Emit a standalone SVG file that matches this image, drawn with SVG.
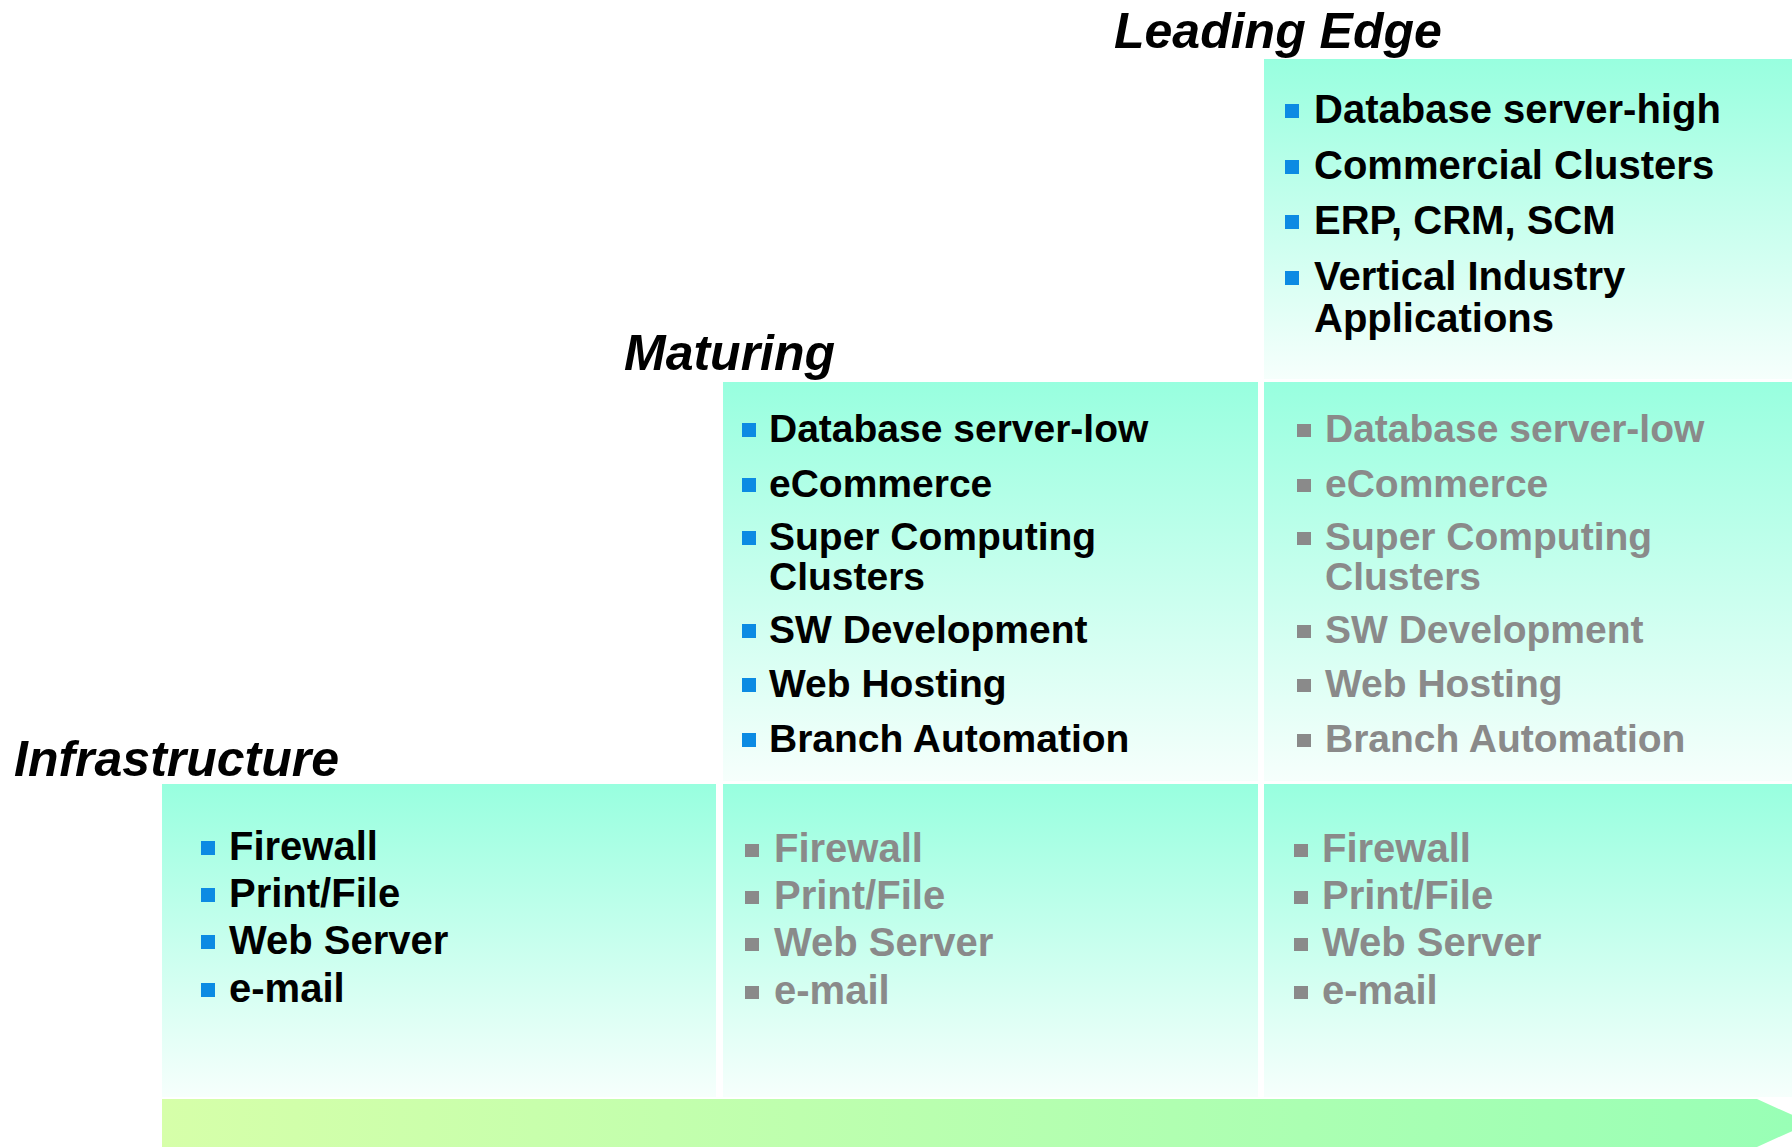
<svg xmlns="http://www.w3.org/2000/svg" width="1792" height="1147" viewBox="0 0 1792 1147">
<defs>
<linearGradient id="boxg" x1="0" y1="0" x2="0" y2="1">
<stop offset="0" stop-color="#98ffdf"/>
<stop offset="1" stop-color="#f6fffc"/>
</linearGradient>
<linearGradient id="arrg" x1="0" y1="0" x2="1" y2="0">
<stop offset="0" stop-color="#d6ffa9"/>
<stop offset="1" stop-color="#98ffb6"/>
</linearGradient>
<style>
.box{fill:url(#boxg)}
.title{font-family:"Liberation Sans",Arial,sans-serif;font-weight:bold;font-style:italic;font-size:50px;fill:#000}
.t{font-family:"Liberation Sans",Arial,sans-serif;font-weight:bold;font-size:40px;fill:#000}
.g{font-family:"Liberation Sans",Arial,sans-serif;font-weight:bold;font-size:40px;fill:#8a8a8a}
.m{font-size:39px}
.bb{fill:#0c8be3}
.gb{fill:#8a8a8a}
</style>
</defs>
<rect width="1792" height="1147" fill="#fff"/>

<g id="arrow">
<polygon points="162,1099 1757,1099 1810,1123 1757,1147 162,1147" fill="url(#arrg)"/>
</g>

<g id="leading-edge">
<rect class="box" x="1264" y="59" width="528" height="320"/>
<text class="title" x="1114" y="48">Leading Edge</text>
<rect class="bb" x="1285" y="104" width="14" height="14"/>
<text class="t" x="1314" y="123">Database server-high</text>
<rect class="bb" x="1285" y="160" width="14" height="14"/>
<text class="t" x="1314" y="179">Commercial Clusters</text>
<rect class="bb" x="1285" y="215" width="14" height="14"/>
<text class="t" x="1314" y="234">ERP, CRM, SCM</text>
<rect class="bb" x="1285" y="271" width="14" height="14"/>
<text class="t" x="1314" y="290">Vertical Industry</text>
<text class="t" x="1314" y="332">Applications</text>
</g>

<g id="maturing">
<rect class="box" x="723" y="382" width="535" height="399"/>
<text class="title" x="624" y="370">Maturing</text>
<rect class="bb" x="742" y="423" width="14" height="14"/>
<text class="t m" x="769" y="442">Database server-low</text>
<rect class="bb" x="742" y="478" width="14" height="14"/>
<text class="t m" x="769" y="497">eCommerce</text>
<rect class="bb" x="742" y="531" width="14" height="14"/>
<text class="t m" x="769" y="550">Super Computing</text>
<text class="t m" x="769" y="590">Clusters</text>
<rect class="bb" x="742" y="624" width="14" height="14"/>
<text class="t m" x="769" y="643">SW Development</text>
<rect class="bb" x="742" y="678" width="14" height="14"/>
<text class="t m" x="769" y="697">Web Hosting</text>
<rect class="bb" x="742" y="733" width="14" height="14"/>
<text class="t m" x="769" y="752">Branch Automation</text>
</g>

<g id="maturing-future">
<rect class="box" x="1264" y="382" width="528" height="399"/>
<rect class="gb" x="1297" y="424" width="14" height="13"/>
<text class="g m" x="1325" y="442">Database server-low</text>
<rect class="gb" x="1297" y="479" width="14" height="13"/>
<text class="g m" x="1325" y="497">eCommerce</text>
<rect class="gb" x="1297" y="532" width="14" height="13"/>
<text class="g m" x="1325" y="550">Super Computing</text>
<text class="g m" x="1325" y="590">Clusters</text>
<rect class="gb" x="1297" y="625" width="14" height="13"/>
<text class="g m" x="1325" y="643">SW Development</text>
<rect class="gb" x="1297" y="679" width="14" height="13"/>
<text class="g m" x="1325" y="697">Web Hosting</text>
<rect class="gb" x="1297" y="734" width="14" height="13"/>
<text class="g m" x="1325" y="752">Branch Automation</text>
</g>

<g id="infrastructure">
<rect class="box" x="162" y="784" width="554" height="313"/>
<text class="title" x="14" y="776">Infrastructure</text>
<rect class="bb" x="201" y="841" width="14" height="14"/>
<text class="t" x="229" y="860">Firewall</text>
<rect class="bb" x="201" y="888" width="14" height="14"/>
<text class="t" x="229" y="907">Print/File</text>
<rect class="bb" x="201" y="935" width="14" height="14"/>
<text class="t" x="229" y="954">Web Server</text>
<rect class="bb" x="201" y="983" width="14" height="14"/>
<text class="t" x="229" y="1002">e-mail</text>
</g>

<g id="infrastructure-mid">
<rect class="box" x="723" y="784" width="535" height="313"/>
<rect class="gb" x="745" y="844" width="14" height="13"/>
<text class="g" x="774" y="862">Firewall</text>
<rect class="gb" x="745" y="891" width="14" height="13"/>
<text class="g" x="774" y="909">Print/File</text>
<rect class="gb" x="745" y="938" width="14" height="13"/>
<text class="g" x="774" y="956">Web Server</text>
<rect class="gb" x="745" y="986" width="14" height="13"/>
<text class="g" x="774" y="1004">e-mail</text>
</g>

<g id="infrastructure-right">
<rect class="box" x="1264" y="784" width="528" height="313"/>
<rect class="gb" x="1294" y="844" width="14" height="13"/>
<text class="g" x="1322" y="862">Firewall</text>
<rect class="gb" x="1294" y="891" width="14" height="13"/>
<text class="g" x="1322" y="909">Print/File</text>
<rect class="gb" x="1294" y="938" width="14" height="13"/>
<text class="g" x="1322" y="956">Web Server</text>
<rect class="gb" x="1294" y="986" width="14" height="13"/>
<text class="g" x="1322" y="1004">e-mail</text>
</g>
</svg>
